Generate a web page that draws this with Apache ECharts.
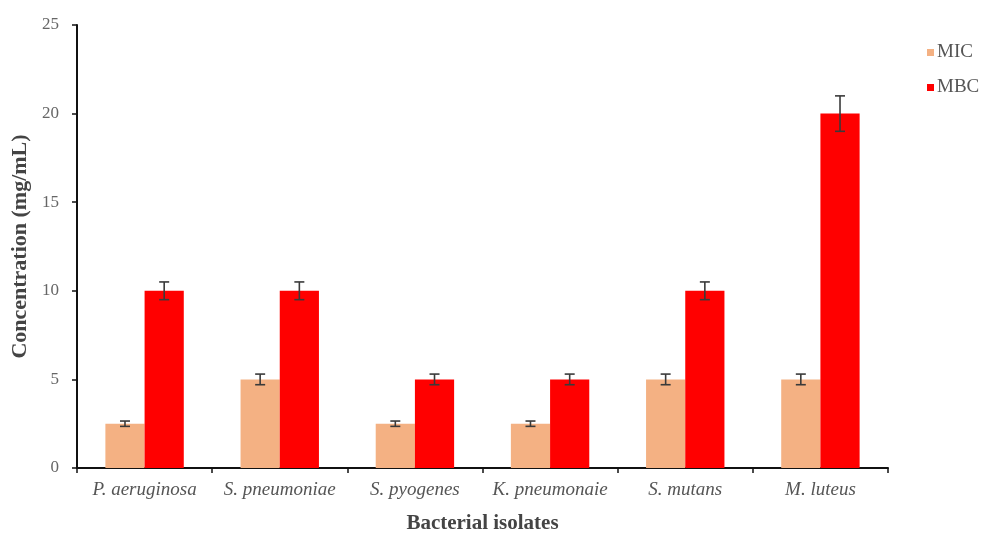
<!DOCTYPE html>
<html>
<head>
<meta charset="utf-8">
<script src="https://cdn.jsdelivr.net/npm/echarts@6/dist/echarts.min.js"></script>
<style>
  html, body { margin: 0; padding: 0; background: #fff; }
  #chart { width: 988px; height: 536px; }
</style>
</head>
<body>
<div id="chart"></div>
<script>
// Bacterial isolates and measured concentrations (mg/mL)
const isolates = ['P. aeruginosa', 'S. pneumoniae', 'S. pyogenes', 'K. pneumonaie', 'S. mutans', 'M. luteus'];
const micValues = [2.5, 5, 2.5, 2.5, 5, 5];
const mbcValues = [10, 10, 5, 5, 10, 20];
const micErrors = [0.15, 0.3, 0.15, 0.15, 0.3, 0.3];
const mbcErrors = [0.5, 0.5, 0.3, 0.3, 0.5, 1];
const yTicks = [0, 5, 10, 15, 20, 25];

const categoryGap = 0.42;   // fraction of each band left empty
const serif = '"Liberation Serif", "Times New Roman", serif';

// Error bars drawn with a custom series, offset to sit over each bar of the pair
function errorSeries(values, errors, side) {
  return {
    type: 'custom',
    name: side < 0 ? 'MIC err' : 'MBC err',
    z: 10,
    data: values.map((v, i) => [i, v - errors[i], v + errors[i]]),
    renderItem: function (params, api) {
      const idx = api.value(0);
      const lo = api.coord([idx, api.value(1)]);
      const hi = api.coord([idx, api.value(2)]);
      const band = api.size([1, 0])[0];
      const barW = band * (1 - categoryGap) / 2;
      const x = lo[0] + side * barW / 2;
      const cap = 5;
      const style = { stroke: '#3a3a3a', lineWidth: 1.6 };
      return {
        type: 'group',
        children: [
          { type: 'line', shape: { x1: x, y1: lo[1], x2: x, y2: hi[1] }, style: style },
          { type: 'line', shape: { x1: x - cap, y1: hi[1], x2: x + cap, y2: hi[1] }, style: style },
          { type: 'line', shape: { x1: x - cap, y1: lo[1], x2: x + cap, y2: lo[1] }, style: style }
        ]
      };
    }
  };
}

const chart = echarts.init(document.getElementById('chart'), null, { renderer: 'canvas' });
chart.setOption({
  animation: false,
  backgroundColor: '#ffffff',
  grid: { left: 77, right: 100, top: 25, bottom: 68, containLabel: false, outerBoundsMode: 'none' },
  legend: {
    orient: 'vertical',
    left: 922,
    top: 38,
    itemGap: 16,
    itemWidth: 7,
    itemHeight: 7,
    icon: 'rect',
    data: ['MIC', 'MBC'],
    textStyle: { fontFamily: serif, fontSize: 19, color: '#555', padding: [0, 0, 0, -2] }
  },
  xAxis: {
    type: 'category',
    data: isolates,
    name: 'Bacterial isolates',
    nameLocation: 'middle',
    nameGap: 45,
    nameTextStyle: { fontFamily: serif, fontSize: 21, fontWeight: 'bold', color: '#444' },
    axisLine: { lineStyle: { color: '#111', width: 2 } },
    axisTick: { show: true, alignWithLabel: false, length: 5, lineStyle: { color: '#111', width: 1.5 } },
    axisLabel: { interval: 0, hideOverlap: false, fontFamily: serif, fontStyle: 'italic', fontSize: 19, color: '#555', margin: 12 }
  },
  yAxis: {
    type: 'value',
    min: yTicks[0],
    max: yTicks[yTicks.length - 1],
    interval: 5,
    name: 'Concentration (mg/mL)',
    nameLocation: 'middle',
    nameGap: 44,
    nameTextStyle: { fontFamily: serif, fontSize: 22, fontWeight: 'bold', color: '#444' },
    axisLine: { show: true, lineStyle: { color: '#111', width: 2 } },
    axisTick: { show: true, length: 5, lineStyle: { color: '#111', width: 1.5 } },
    axisLabel: { fontFamily: serif, fontSize: 17, color: '#666', margin: 18 },
    splitLine: { show: false }
  },
  series: [
    {
      name: 'MIC',
      type: 'bar',
      data: micValues,
      barGap: '0%',
      barCategoryGap: (categoryGap * 100) + '%',
      itemStyle: { color: '#F4B183' }
    },
    {
      name: 'MBC',
      type: 'bar',
      data: mbcValues,
      barGap: '0%',
      barCategoryGap: (categoryGap * 100) + '%',
      itemStyle: { color: '#FF0000' }
    },
    errorSeries(micValues, micErrors, -1),
    errorSeries(mbcValues, mbcErrors, 1)
  ]
});
</script>
</body>
</html>
